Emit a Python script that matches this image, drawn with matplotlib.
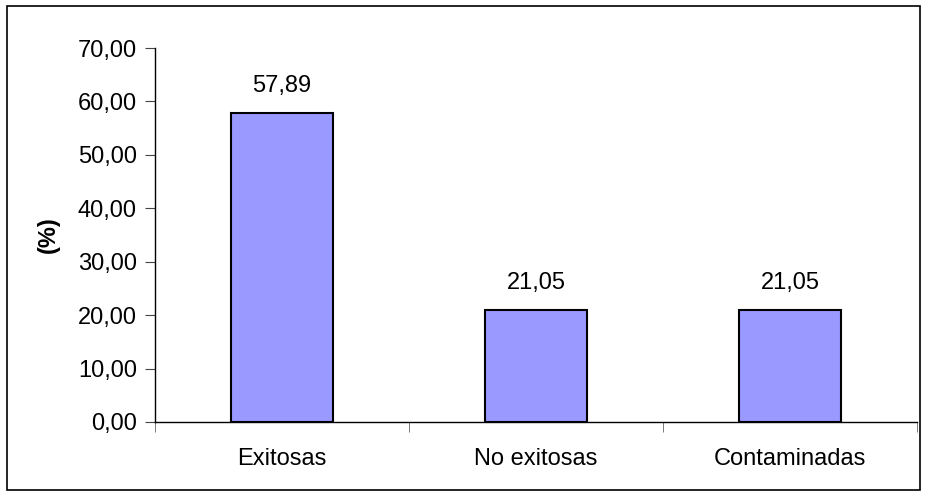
import matplotlib.pyplot as plt
from matplotlib.patches import Rectangle

categories = ['Exitosas', 'No exitosas', 'Contaminadas']
values = [57.89, 21.05, 21.05]
y_ticks = [0, 10, 20, 30, 40, 50, 60, 70]

plt.rcParams['font.family'] = ['Liberation Sans', 'DejaVu Sans']
fs = 17

fig = plt.figure(figsize=(9.27, 4.96), dpi=100)
ax = fig.add_axes([0.1672, 0.1492, 0.822, 0.754])

x = range(len(categories))
ax.bar(x, values, width=0.405, color='#9999FF', edgecolor='black', linewidth=1.5, zorder=2)

for xi, v in zip(x, values):
    ax.annotate(('%.2f' % v).replace('.', ','), (xi, v), xytext=(0, 11),
                textcoords='offset points', ha='center', va='bottom', fontsize=fs)

ax.set_xlim(-0.5, 2.5)
ax.set_ylim(0, 70)
ax.set_yticks(y_ticks)
ax.set_yticklabels([('%.2f' % t).replace('.', ',') for t in y_ticks], fontsize=fs)
ax.set_xticks(list(x))
ax.set_xticklabels(categories, fontsize=fs)
ax.tick_params(axis='x', which='major', length=0, pad=19)
ax.set_xticks([-0.5, 0.5, 1.5, 2.5], minor=True)
ax.tick_params(axis='x', which='minor', length=7, color='#666666', direction='out')
ax.tick_params(axis='y', length=7, color='#444444', direction='out', pad=6)
ax.set_ylabel('(%)', fontsize=fs, fontweight='bold', labelpad=13)

for s in ['top', 'right']:
    ax.spines[s].set_visible(False)
ax.spines['left'].set_linewidth(1.0)
ax.spines['bottom'].set_linewidth(1.0)

# black frame round the whole figure
fig.patches.append(Rectangle((7 / 927, 6 / 496), 913 / 927, 484 / 496,
                             transform=fig.transFigure, fill=False,
                             edgecolor='black', linewidth=1.2))

fig.savefig('out.png', dpi=100)
